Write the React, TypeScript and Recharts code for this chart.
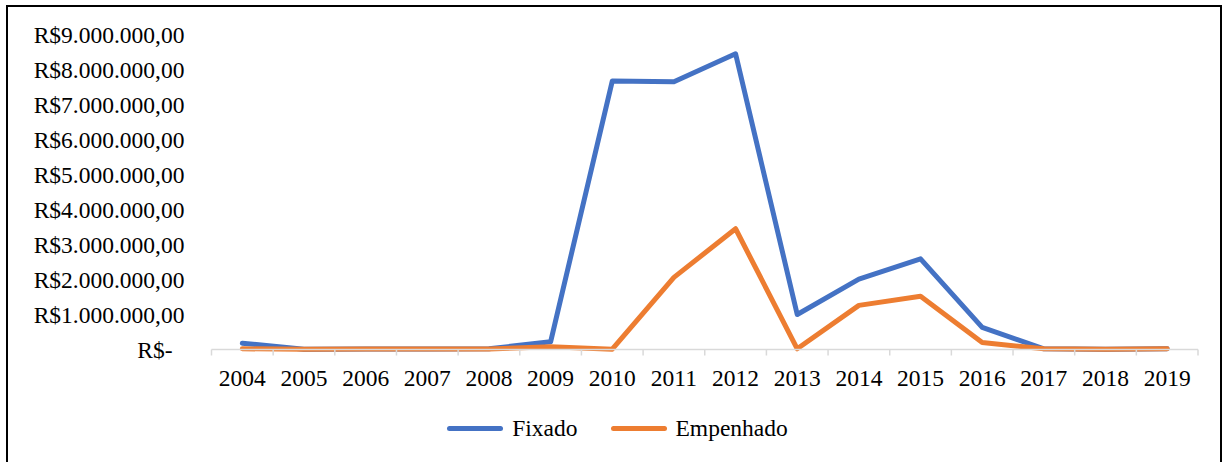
import { LineChart, Line, XAxis, YAxis, Legend } from "recharts";

const years = ["2004", "2005", "2006", "2007", "2008", "2009", "2010", "2011", "2012", "2013", "2014", "2015", "2016", "2017", "2018", "2019"];
const fixado = [180000, 10000, 15000, 15000, 20000, 220000, 7670000, 7650000, 8450000, 1000000, 2010000, 2590000, 630000, 20000, 10000, 20000];
const empenhado = [20000, 10000, 15000, 15000, 15000, 80000, 10000, 2060000, 3450000, 20000, 1260000, 1520000, 200000, 20000, 10000, 20000];
const yTicks = [0, 1000000, 2000000, 3000000, 4000000, 5000000, 6000000, 7000000, 8000000, 9000000];
const seriesNames = ["Fixado", "Empenhado"];

const FONT = '"Liberation Serif", "Times New Roman", serif';
const BLUE = "#4472C4";
const ORANGE = "#ED7D31";

const data = years.map((year, i) => ({ i, year, fixado: fixado[i], empenhado: empenhado[i] }));
// integer ticks carry the year, half ticks are the small marks between categories
const xTicks = [...years.flatMap((_, i) => [i - 0.5, i]), years.length - 0.5];

function brl(v: number): string {
  if (v === 0) return "R$-";
  const s = String(Math.round(v)).replace(/\B(?=(\d{3})+(?!\d))/g, ".");
  return `R$${s},00`;
}

function YTick({ x, y, payload }: any) {
  const v = payload.value;
  return (
    <text x={v === 0 ? x - 12 : x} y={y} dy="0.35em" textAnchor="end" fontFamily={FONT} fontSize={23.5} fill="#000">
      {brl(v)}
    </text>
  );
}

function XTick({ x, y, payload }: any) {
  const v = payload.value;
  if (!Number.isInteger(v)) {
    return <line x1={x} x2={x} y1={y} y2={y + 6} stroke="#d9d9d9" strokeWidth={1.5} />;
  }
  return (
    <text x={x} y={y + 19.5} dy="0.71em" textAnchor="middle" fontFamily={FONT} fontSize={23.5} fill="#000">
      {years[v]}
    </text>
  );
}

function LegendRow({ payload }: any) {
  const items = [...(payload || [])].sort((a: any, b: any) => seriesNames.indexOf(a.value) - seriesNames.indexOf(b.value));
  return (
    <div style={{ display: "flex", justifyContent: "center", alignItems: "center", height: 30, fontFamily: FONT, fontSize: 23.5, color: "#000" }}>
      {items.map((p: any, k: number) => (
        <div key={p.value} style={{ display: "flex", alignItems: "center", marginLeft: k ? 33 : 0 }}>
          <span style={{ display: "inline-block", width: 56, height: 5, borderRadius: 3, background: p.color, marginRight: 9 }} />
          <span>{p.value}</span>
        </div>
      ))}
    </div>
  );
}

export default function App() {
  return (
    <div style={{ position: "absolute", left: 0, top: 0, width: 1227, height: 462, background: "#fff", overflow: "hidden" }}>
      <div style={{ position: "absolute", left: 6, top: 5, width: 1216, height: 500, border: "2px solid #000", boxSizing: "border-box" }} />
      <LineChart width={1227} height={462} data={data} margin={{ top: 34.5, right: 29, left: 0, bottom: 0 }}>
        <XAxis
          dataKey="i"
          type="number"
          domain={[-0.5, years.length - 0.5]}
          ticks={xTicks}
          interval={0}
          height={82.5}
          tickSize={0}
          tickMargin={0}
          tickLine={false}
          axisLine={{ stroke: "#d9d9d9", strokeWidth: 1.5 }}
          tick={<XTick />}
        />
        <YAxis
          domain={[0, 9000000]}
          ticks={yTicks}
          interval={0}
          width={211.5}
          tickSize={0}
          tickMargin={27}
          tickLine={false}
          axisLine={false}
          tick={<YTick />}
        />
        <Legend
          verticalAlign="bottom"
          content={<LegendRow />}
          wrapperStyle={{ left: 0, width: 1235, top: 413 }}
        />
        <Line
          dataKey="fixado"
          name="Fixado"
          stroke={BLUE}
          strokeWidth={5}
          strokeLinejoin="round"
          strokeLinecap="round"
          dot={false}
          activeDot={false}
          isAnimationActive={false}
        />
        <Line
          dataKey="empenhado"
          name="Empenhado"
          stroke={ORANGE}
          strokeWidth={5}
          strokeLinejoin="round"
          strokeLinecap="round"
          dot={false}
          activeDot={false}
          isAnimationActive={false}
        />
      </LineChart>
    </div>
  );
}
